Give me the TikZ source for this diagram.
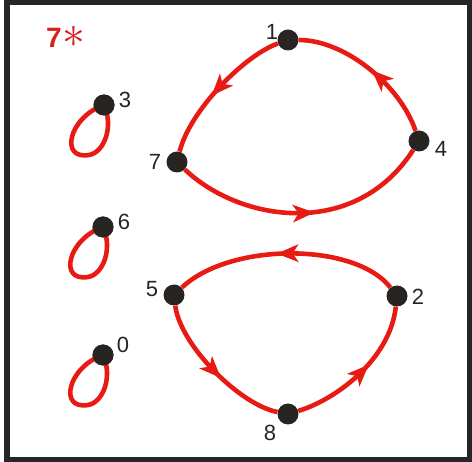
\documentclass[tikz,border=0pt]{standalone}
\usepackage{fontspec}
\setmainfont{Liberation Sans}
\usetikzlibrary{decorations.markings,calc}
\definecolor{linered}{RGB}{232,26,20}
\definecolor{titlered}{RGB}{214,34,30}
\definecolor{dotcol}{RGB}{40,36,34}
\definecolor{framecol}{RGB}{38,38,38}
\tikzset{
  dot/.style={circle,fill=dotcol,minimum size=21pt,inner sep=0pt},
  lbl/.style={font=\fontsize{22}{24}\selectfont,text=dotcol,inner sep=0pt},
  redline/.style={draw=linered,line width=4.6pt},
  arrowmid/.style={redline,postaction={decorate},
    decoration={markings,mark=at position #1 with {\fill[linered] (10pt,0pt) -- (-12pt,9pt) -- (-6pt,0pt) -- (-12pt,-9pt) -- cycle;}}},
}
\begin{document}
\begin{tikzpicture}[x=1pt,y=-1pt]
\useasboundingbox (0,0) rectangle (472,462);
\draw[framecol,line width=5.5pt] (7,2) rectangle (469.5,459.5);
% title
\node[font=\bfseries\fontsize{28}{30}\selectfont,text=titlered,inner sep=0pt] (t7) at (54,38) {7};
\node[text=titlered,inner sep=0pt,font=\fontsize{20}{22}\selectfont] (tast) at (74,37) {\scalebox{2.2}{$\ast$}};
% nodes
\node[dot] (n1) at (288,40) {};
\node[dot] (n4) at (419,141) {};
\node[dot] (n7) at (177,162) {};
\node[dot] (n5) at (174,295) {};
\node[dot] (n2) at (397,296) {};
\node[dot] (n8) at (288,414) {};
\node[dot] (n3) at (104,105) {};
\node[dot] (n6) at (103,227) {};
\node[dot] (n0) at (103,355) {};
% labels
\node[lbl] (l1) at (272,32) {1};
\node[lbl] (l4) at (441,149) {4};
\node[lbl] (l7) at (155,162) {7};
\node[lbl] (l3) at (125,100) {3};
\node[lbl] (l6) at (124,222) {6};
\node[lbl] (l0) at (123,345) {0};
\node[lbl] (l5) at (152,289) {5};
\node[lbl] (l2) at (418,297) {2};
\node[lbl] (l8) at (270,433) {8};
% upper cycle
\draw[arrowmid=0.5] (n1) .. controls (245,55) and (190,110) .. (n7);
\draw[arrowmid=0.5] (n7) .. controls (240,222) and (355,240) .. (n4);
\draw[arrowmid=0.42] (n4) .. controls (400,85) and (345,40) .. (n1);
% lower cycle
\draw[arrowmid=0.5] (n2) .. controls (355,242) and (230,242) .. (n5);
\draw[arrowmid=0.5] (n5) .. controls (180,345) and (240,405) .. (n8);
\draw[arrowmid=0.5] (n8) .. controls (335,400) and (390,360) .. (n2);
% loops
\foreach \n in {n3,n6,n0}{
  \draw[redline] (\n.center) .. controls ($(\n)+(-35,12)$) and ($(\n)+(-45,55)$) .. ($(\n)+(-15,50)$)
     .. controls ($(\n)+(0,47.5)$) and ($(\n)+(10,22)$) .. (\n.center);
}
\foreach \n in {n3,n6,n0}{ \node[dot] at (\n) {}; }
\end{tikzpicture}
\end{document}
